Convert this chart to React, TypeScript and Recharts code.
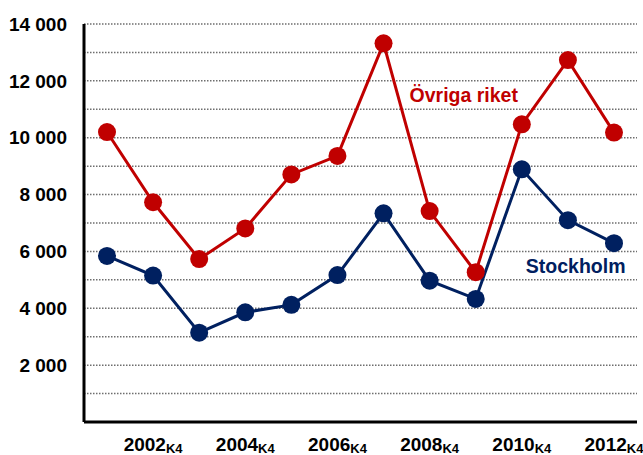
import { LineChart, Line, XAxis, YAxis, ReferenceLine, ReferenceDot } from 'recharts';

const years = ['2001', '2002', '2003', '2004', '2005', '2006', '2007', '2008', '2009', '2010', '2011', '2012'];
const ovrigaRiket = [10200, 7730, 5730, 6810, 8710, 9360, 13320, 7420, 5270, 10470, 12730, 10180];
const stockholm = [5840, 5150, 3140, 3860, 4120, 5170, 7340, 4970, 4330, 8890, 7100, 6290];
const yTicks = [2000, 4000, 6000, 8000, 10000, 12000, 14000];
const gridValues = [1000, 2000, 3000, 4000, 5000, 6000, 7000, 8000, 9000, 10000, 11000, 12000, 13000, 14000];
const labeledYears = ['2002', '2004', '2006', '2008', '2010', '2012'];
const quarterSuffix = 'K4';

const RED = '#c00000';
const BLUE = '#002060';
const FONT = '"Liberation Sans", Arial, sans-serif';

const data = years.map((year, i) => ({
  year,
  ovriga: ovrigaRiket[i],
  sthlm: stockholm[i],
}));

const fmt = (v: number) => String(v).replace(/\B(?=(\d{3})+(?!\d))/g, ' ');

const XTick = ({ x, y, payload }: any) => {
  if (!labeledYears.includes(payload.value)) return null;
  return (
    <text x={x} y={y + 29} textAnchor="middle" fontFamily={FONT} fontWeight="bold" fontSize={19} fill="#000">
      <tspan>{payload.value}</tspan>
      <tspan fontSize={13} dy={2}>{quarterSuffix}</tspan>
    </text>
  );
};

export default function App() {
  return (
    <div style={{ position: 'absolute', left: 0, top: 0, background: '#fff' }}>
      <LineChart width={643} height={455} data={data} margin={{ top: 24, right: 6, bottom: 0, left: 0 }}>
        {gridValues.map((v) => (
          <ReferenceLine key={v} y={v} stroke="#6e6e6e" strokeWidth={1.5} strokeDasharray="1.5 1.5" />
        ))}
        <XAxis
          dataKey="year"
          height={33}
          padding={{ left: 23, right: 23 }}
          interval={0}
          tickLine={false}
          tickSize={0}
          tickMargin={0}
          axisLine={{ stroke: '#000', strokeWidth: 3 }}
          tick={<XTick />}
        />
        <YAxis
          width={84}
          domain={[0, 14000]}
          ticks={yTicks}
          tickFormatter={fmt}
          tickLine={false}
          tickSize={0}
          tickMargin={17}
          axisLine={{ stroke: '#000', strokeWidth: 3 }}
          tick={{ fill: '#000', fontFamily: FONT, fontWeight: 'bold', fontSize: 19 }}
        />
        <Line
          dataKey="ovriga"
          stroke={RED}
          strokeWidth={3}
          dot={{ r: 9, fill: RED, stroke: 'none' }}
          activeDot={false}
          isAnimationActive={false}
        />
        <Line
          dataKey="sthlm"
          stroke={BLUE}
          strokeWidth={3}
          dot={{ r: 9, fill: BLUE, stroke: 'none' }}
          activeDot={false}
          isAnimationActive={false}
        />
        <ReferenceDot
          x="2007"
          y={11500}
          r={0}
          stroke="none"
          label={{ value: 'Övriga riket', position: 'right', offset: 26, fill: RED, fontFamily: FONT, fontWeight: 'bold', fontSize: 19.5 }}
        />
        <ReferenceDot
          x="2010"
          y={5500}
          r={0}
          stroke="none"
          label={{ value: 'Stockholm', position: 'right', offset: 4, fill: BLUE, fontFamily: FONT, fontWeight: 'bold', fontSize: 19.5 }}
        />
      </LineChart>
    </div>
  );
}
